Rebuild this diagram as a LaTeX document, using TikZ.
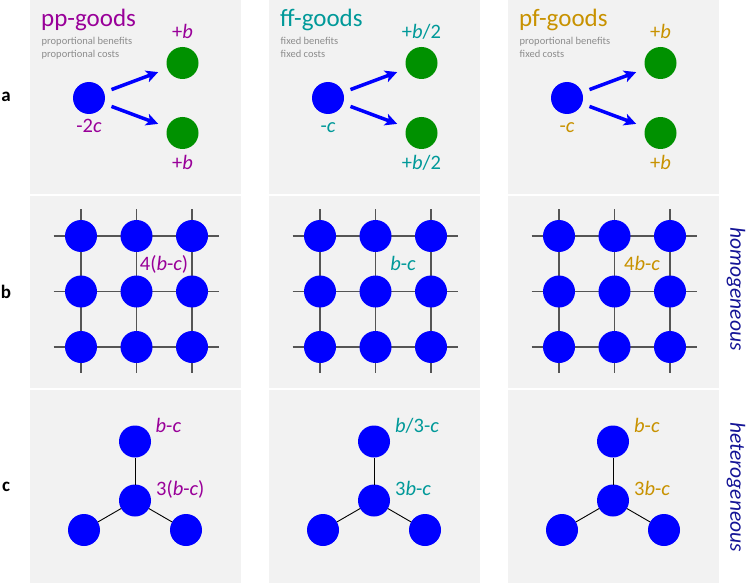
\documentclass[tikz,border=0pt]{standalone}
\usepackage{fontspec}
\setmainfont{Carlito}
\usetikzlibrary{arrows.meta}
\definecolor{panel}{RGB}{242,242,242}
\definecolor{ppc}{RGB}{153,0,153}
\definecolor{ffc}{RGB}{0,153,153}
\definecolor{pfc}{RGB}{200,146,0}
\definecolor{nodeblue}{RGB}{0,0,255}
\definecolor{nodegreen}{RGB}{0,145,0}
\definecolor{subgray}{RGB}{140,140,140}
\definecolor{sidenavy}{RGB}{20,20,150}
\definecolor{gridcol}{RGB}{85,85,85}
\tikzset{
  bnode/.style={circle,fill=nodeblue,minimum size=32pt,inner sep=0pt,outer sep=0pt},
  gnode/.style={circle,fill=nodegreen,minimum size=32pt,inner sep=0pt,outer sep=0pt},
  arr/.style={-{Stealth[length=12pt,width=12pt,inset=3pt]},line width=3.5pt,draw=nodeblue,shorten <=8pt,shorten >=10pt},
  gridl/.style={draw=gridcol,line width=1.1pt},
  starl/.style={draw=black,line width=0.9pt},
  panelbox/.style={fill=panel},
  lbl/.style={font=\fontsize{20.5}{24}\selectfont,inner sep=0pt,anchor=base},
  lblw/.style={font=\fontsize{20.5}{24}\selectfont,inner sep=0pt,anchor=base west},
  ttl/.style={font=\fontsize{25}{28}\selectfont,inner sep=0pt,anchor=base west},
  subt/.style={font=\fontsize{10.5}{12}\selectfont,text=subgray,inner sep=0pt,anchor=base west},
  rowlbl/.style={font=\fontsize{19}{20}\selectfont\bfseries,inner sep=0pt},
  sidelbl/.style={font=\fontsize{21.5}{24}\selectfont\itshape,text=sidenavy,rotate=-90,inner sep=0pt}
}
\newcommand\colbody[1]{%
  \fill[panelbox] (0,0.5) rectangle (211,193.5);
  \fill[panelbox] (0,195.5) rectangle (211,387.5);
  \fill[panelbox] (0,389.5) rectangle (211,583);
  % row a
  \node[bnode] (#1blue) at (59,98) {};
  \node[gnode] (#1gup) at (152.5,63) {};
  \node[gnode] (#1gdn) at (152.5,133) {};
  \draw[arr] (#1blue) -- (#1gup);
  \draw[arr] (#1blue) -- (#1gdn);
  % row b grid
  \foreach \k/\gx in {1/51,2/106.5,3/162}{
    \coordinate (#1vt\k) at (\gx,209);
    \coordinate (#1vb\k) at (\gx,373);
    \draw[gridl] (#1vt\k) -- (#1vb\k);
  }
  \foreach \k/\gy in {1/236,2/291.5,3/347}{
    \coordinate (#1hl\k) at (23.5,\gy);
    \coordinate (#1hr\k) at (188.5,\gy);
    \draw[gridl] (#1hl\k) -- (#1hr\k);
  }
  \foreach \r/\gy in {1/236,2/291.5,3/347}{
    \foreach \k/\gx in {1/51,2/106.5,3/162}{
      \node[bnode] (#1n\r\k) at (\gx,\gy) {};
    }
  }
  % row c star
  \node[bnode] (#1sc) at (105,500.5) {};
  \node[bnode] (#1st) at (105,441.5) {};
  \node[bnode] (#1sl) at (54,530) {};
  \node[bnode] (#1sr) at (156,530) {};
  \draw[starl] (#1sc) -- (#1st);
  \draw[starl] (#1sc) -- (#1sl);
  \draw[starl] (#1sc) -- (#1sr);
}
\begin{document}
\begin{tikzpicture}[x=1pt,y=-1pt]
\useasboundingbox (0,0) rectangle (747,583);
\fill[white] (0,0) rectangle (747,583);

% column 1: pp-goods
\begin{scope}[shift={(30,0)}]
  \colbody{p}
  \node[ttl,text=ppc] (pt) at (11,26.5) {pp-goods};
  \node[subt] (ps1) at (11.5,45) {proportional benefits};
  \node[subt] (ps2) at (11.5,57.5) {proportional costs};
  \node[lbl,text=ppc] (pl1) at (152.5,38.5) {+\textit{b}};
  \node[lbl,text=ppc] (pl2) at (59,132) {-2\textit{c}};
  \node[lbl,text=ppc] (pl3) at (152.5,170) {+\textit{b}};
  \node[lbl,text=ppc] (pl4) at (134,270) {4(\textit{b}-\textit{c})};
  \node[lblw,text=ppc] (pl5) at (125.5,432.5) {\textit{b}-\textit{c}};
  \node[lblw,text=ppc] (pl6) at (126,495.5) {3(\textit{b}-\textit{c})};
\end{scope}

% column 2: ff-goods
\begin{scope}[shift={(269,0)}]
  \colbody{f}
  \node[ttl,text=ffc] (ft) at (11,26.5) {ff-goods};
  \node[subt] (fs1) at (11.5,45) {fixed benefits};
  \node[subt] (fs2) at (11.5,57.5) {fixed costs};
  \node[lbl,text=ffc] (fl1) at (152.5,38.5) {+\textit{b}/2};
  \node[lbl,text=ffc] (fl2) at (59,132) {-\textit{c}};
  \node[lbl,text=ffc] (fl3) at (152.5,170) {+\textit{b}/2};
  \node[lbl,text=ffc] (fl4) at (134,270) {\textit{b}-\textit{c}};
  \node[lblw,text=ffc] (fl5) at (126,432.5) {\textit{b}/3-\textit{c}};
  \node[lblw,text=ffc] (fl6) at (126,495.5) {3\textit{b}-\textit{c}};
\end{scope}

% column 3: pf-goods
\begin{scope}[shift={(508,0)}]
  \colbody{g}
  \node[ttl,text=pfc] (gt) at (11,26.5) {pf-goods};
  \node[subt] (gs1) at (11.5,45) {proportional benefits};
  \node[subt] (gs2) at (11.5,57.5) {fixed costs};
  \node[lbl,text=pfc] (gl1) at (152.5,38.5) {+\textit{b}};
  \node[lbl,text=pfc] (gl2) at (59,132) {-\textit{c}};
  \node[lbl,text=pfc] (gl3) at (152.5,170) {+\textit{b}};
  \node[lbl,text=pfc] (gl4) at (134,270) {4\textit{b}-\textit{c}};
  \node[lblw,text=pfc] (gl5) at (126,432.5) {\textit{b}-\textit{c}};
  \node[lblw,text=pfc] (gl6) at (126,495.5) {3\textit{b}-\textit{c}};
\end{scope}

% row labels
\node[rowlbl] (ra) at (6,97) {a};
\node[rowlbl] (rb) at (6,292) {b};
\node[rowlbl] (rc) at (6,487) {c};

% side labels
\node[sidelbl] (hom) at (736,289) {homogeneous};
\node[sidelbl] (het) at (736,487) {heterogeneous};
\end{tikzpicture}
\end{document}
